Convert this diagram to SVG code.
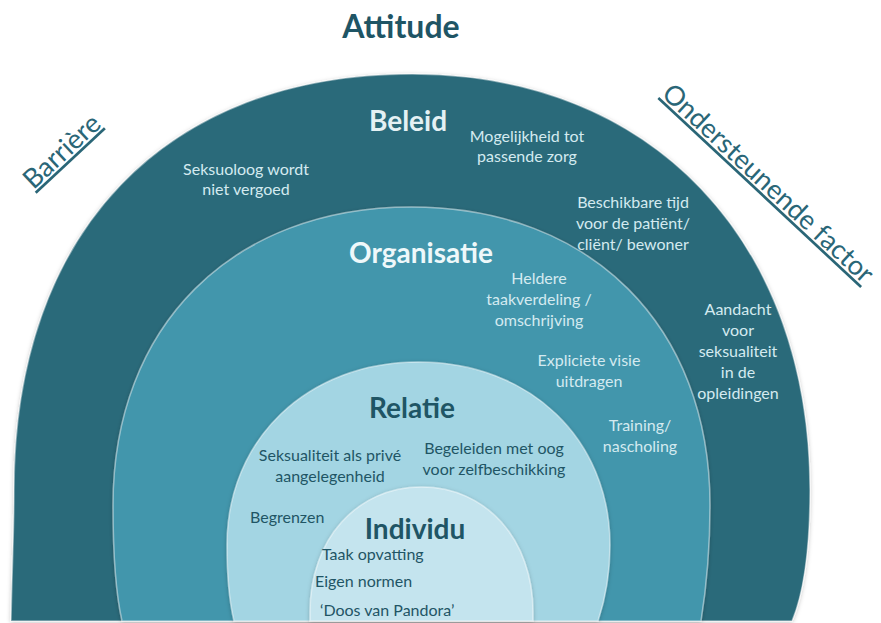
<svg xmlns="http://www.w3.org/2000/svg" width="881" height="623" viewBox="0 0 881 623">
<defs>
<filter id="sh" x="-5%" y="-5%" width="110%" height="110%">
<feDropShadow dx="0" dy="1" stdDeviation="2" flood-color="#000" flood-opacity="0.25"/>
</filter>
</defs>
<style>
text{font-family:Lato,"Open Sans","Liberation Sans",sans-serif;text-anchor:middle}
.ring{stroke:#ffffff;stroke-opacity:0.45;stroke-width:1.5;filter:url(#sh)}
.title{font-weight:bold;font-size:28px}
.it{font-size:16px}
.lt{fill:#d4eaf0}
.dk{fill:#1f5565}
.side{fill:#2a6677;text-decoration:underline}
</style>
<rect width="881" height="623" fill="#ffffff"/>
<g id="heading">
<text x="401" y="38" class="title dk" style="font-size:32px">Attitude</text>
<text class="side" style="font-size:27px" transform="translate(68,158) rotate(-43)">Barrière</text>
<text class="side" style="font-size:27px" transform="translate(762,190) rotate(43)">Ondersteunende factor</text>
</g>
<g id="beleid">
<path class="ring" fill="#2b6a7a" d="M11 621 C12 570 14 530 14 490 C14 232 165 74 412 74 C651 74 810 240 810 490 C810 550 803 595 792 621 Z"/>
<text x="408" y="131" class="title" fill="#e4f1f4">Beleid</text>
<text class="it lt"><tspan x="527" y="142">Mogelijkheid tot</tspan><tspan x="527" y="162">passende zorg</tspan></text>
<text class="it lt"><tspan x="246" y="175">Seksuoloog wordt</tspan><tspan x="246" y="195">niet vergoed</tspan></text>
<text class="it lt"><tspan x="633" y="208">Beschikbare tijd</tspan><tspan x="633" y="229">voor de patiënt/</tspan><tspan x="633" y="250">cliënt/ bewoner</tspan></text>
<text class="it lt"><tspan x="738" y="315">Aandacht</tspan><tspan x="738" y="336">voor</tspan><tspan x="738" y="357">seksualiteit</tspan><tspan x="738" y="378">in de</tspan><tspan x="738" y="399">opleidingen</tspan></text>
</g>
<g id="organisatie">
<path class="ring" fill="#4396ac" d="M122 621 C115 590 113 550 113 505 C113 326 232 207 411.5 207 C591 207 710 326 710 505 C710 550 706 590 701 621 Z"/>
<text x="421" y="263" class="title" fill="#eef8fa">Organisatie</text>
<text class="it lt"><tspan x="539" y="284">Heldere</tspan><tspan x="539" y="305">taakverdeling /</tspan><tspan x="539" y="326">omschrijving</tspan></text>
<text class="it lt"><tspan x="589" y="366">Expliciete visie</tspan><tspan x="589" y="387">uitdragen</tspan></text>
<text class="it lt"><tspan x="640" y="431">Training/</tspan><tspan x="640" y="452">nascholing</tspan></text>
</g>
<g id="relatie">
<path class="ring" fill="#a3d5e3" d="M234 621 C229 600 227 575 227 545 C227 439 307.5 362 418.5 362 C529.5 362 610 439 610 545 C610 575 605 600 598 621 Z"/>
<text x="412" y="418" class="title dk">Relatie</text>
<text class="it dk"><tspan x="330" y="461">Seksualiteit als privé</tspan><tspan x="330" y="482">aangelegenheid</tspan></text>
<text class="it dk"><tspan x="494" y="454">Begeleiden met oog</tspan><tspan x="494" y="475">voor zelfbeschikking</tspan></text>
<text x="250" y="523" class="it dk" style="text-anchor:start">Begrenzen</text>
</g>
<g id="individu">
<path class="ring" fill="#c4e4ee" d="M310 621 L310 612 C310 539.5 356.8 487 421.5 487 C486.2 487 533 539.5 533 612 L533 621 Z"/>
<text x="415" y="539" class="title dk">Individu</text>
<text x="322" y="560" class="it dk" style="text-anchor:start">Taak opvatting</text>
<text x="315" y="587" class="it dk" style="text-anchor:start">Eigen normen</text>
<text x="320" y="616" class="it dk" style="text-anchor:start">‘Doos van Pandora’</text>
</g>
</svg>
